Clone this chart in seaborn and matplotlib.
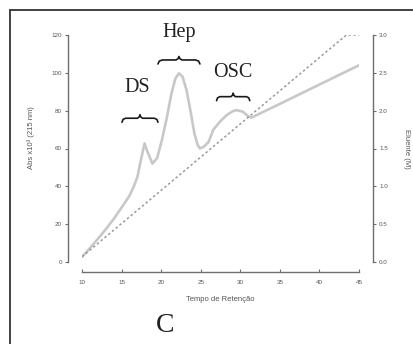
import numpy as np
import pandas as pd
import matplotlib
matplotlib.use('Agg')
import matplotlib.pyplot as plt
from matplotlib.lines import Line2D
import seaborn as sns

tempo = [10, 11, 12, 13, 14, 15, 16, 16.5, 17, 17.5, 17.9, 18.3, 18.9, 19.5,
         20.1, 20.7, 21.3, 21.8, 22.25, 22.7, 23.2, 23.7, 24.2, 24.6, 24.9,
         25.4, 26.0, 26.6, 27.5, 28.3, 29.0, 29.5, 30.3, 31.0, 31.4, 35, 40, 45]
absorbancia = [2.7, 7.3, 12.2, 17.3, 22.7, 28.8, 35, 39.5, 45, 55, 62.7, 58,
               52, 55, 64.5, 76, 89, 97, 99.7, 98, 91, 80, 68, 62, 60,
               61, 63.5, 70, 74.5, 77.7, 79.6, 80.3, 79.5, 77, 76.3, 83.6, 93.8, 104]

tempo_eluente = [10, 43.4, 45]
eluente = [0.07, 3.0, 3.0]

# Rótulos dos picos
picos = ['DS', 'Hep', 'OSC']
pico_ini = [15.05, 19.6, 27.0]
pico_fim = [19.6, 24.9, 31.2]
chave_y = [76, 106.8, 87.4]
texto_x = [17.0, 22.3, 29.0]
texto_y = [92, 121.5, 100]

x_ticks = [10, 15, 20, 25, 30, 35, 40, 45]
y_ticks = [0, 20, 40, 60, 80, 100, 120]
y2_ticks = [0.0, 0.5, 1.0, 1.5, 2.0, 2.5, 3.0]

sns.set_theme(style='ticks')
plt.rcParams['font.family'] = ['Liberation Sans', 'DejaVu Sans']

W, H = 413, 344
fig = plt.figure(figsize=(W / 100, H / 100), dpi=100)
fig.patch.set_facecolor('white')
ax = fig.add_axes([82 / W, 1 - 262 / H, (359 - 82) / W, (262 - 35) / H])
ax.set_facecolor('white')

df = pd.DataFrame({'tempo': tempo, 'abs': absorbancia})
sns.lineplot(data=df, x='tempo', y='abs', ax=ax, color='#c8c8c8', lw=1.9, sort=False)

ax2 = ax.twinx()
df2 = pd.DataFrame({'tempo': tempo_eluente, 'eluente': eluente})
sns.lineplot(data=df2, x='tempo', y='eluente', ax=ax2, color='#9a9a9a', lw=1.1,
             dashes=False, linestyle=(0, (1.6, 1.6)), sort=False)

ax.set_xlim(10, 45)
ax.set_ylim(0, 120)
ax2.set_ylim(0, 3.0)

cor_eixo = '#6e6e6e'
for a in (ax, ax2):
    for s in a.spines.values():
        s.set_visible(False)
    a.tick_params(colors=cor_eixo, labelcolor='#555555', labelsize=4.5,
                  length=2.5, width=0.8, pad=2)

ax.spines['left'].set_visible(True)
ax.spines['left'].set_position(('outward', 10))
ax.spines['left'].set_bounds(0, 120)
ax.spines['bottom'].set_visible(True)
ax.spines['bottom'].set_position(('outward', 7.2))
ax.spines['bottom'].set_bounds(10, 45)
ax2.spines['right'].set_visible(True)
ax2.spines['right'].set_position(('outward', 10))
ax2.spines['right'].set_bounds(0, 3.0)
for s in (ax.spines['left'], ax.spines['bottom'], ax2.spines['right']):
    s.set_color(cor_eixo)
    s.set_linewidth(1.0)

ax.set_xticks(x_ticks)
ax.set_yticks(y_ticks)
ax2.set_yticks(y2_ticks)
ax2.set_yticklabels([f'{v:.1f}' for v in y2_ticks])
ax.tick_params(axis='x', direction='in', pad=6)

ax.set_xlabel('Tempo de Retenção', fontsize=5.5, color='#555555', labelpad=8)
ax.set_ylabel('Abs x10³ (215 nm)', fontsize=5.5, color='#555555', labelpad=11)
ax.yaxis.set_label_coords(-0.17, 0.55)
ax2.set_ylabel('Eluente (M)', fontsize=5.5, color='#555555', rotation=270,
               labelpad=16)

# Chaves sobre os picos
px_y = (262 - 35) / 120.0
for ini, fim, yc in zip(pico_ini, pico_fim, chave_y):
    w = fim - ini
    d = 4.0 / px_y
    t = 3.5 / px_y
    xm = (ini + fim) / 2
    xs = [ini, ini + 0.03 * w, ini + 0.1 * w, xm - 0.07 * w, xm - 0.02 * w, xm,
          xm + 0.02 * w, xm + 0.07 * w, fim - 0.1 * w, fim - 0.03 * w, fim]
    ys = [yc - d, yc - 0.3 * d, yc, yc, yc + 0.4 * t, yc + t,
          yc + 0.4 * t, yc, yc, yc - 0.3 * d, yc - d]
    ax.plot(xs, ys, color='#1a1a1a', lw=1.2, clip_on=False,
            solid_capstyle='round', solid_joinstyle='round')

for nome, xt, yt in zip(picos, texto_x, texto_y):
    ax.text(xt, yt, nome, ha='center', va='center', fontsize=14.5,
            family=['Liberation Serif', 'DejaVu Serif'], color='#222222')

fig.text(165 / W, 1 - 326 / H, 'C', ha='center', va='center', fontsize=20,
         family=['Liberation Serif', 'DejaVu Serif'], color='#222222')

# Moldura da figura
fig.add_artist(Line2D([10 / W, 10 / W], [0, 1 - 10 / H], transform=fig.transFigure,
                      color='#333333', lw=1.3))
fig.add_artist(Line2D([10 / W, 1], [1 - 10 / H, 1 - 10 / H], transform=fig.transFigure,
                      color='#333333', lw=1.3))

fig.savefig('out.png', dpi=100)
